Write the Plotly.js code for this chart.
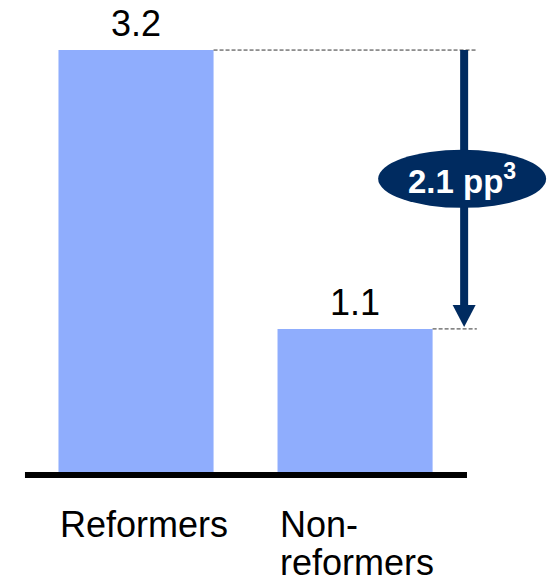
<!DOCTYPE html>
<html>
<head>
<meta charset="utf-8">
<script src="https://cdn.plot.ly/plotly-3.0.1.min.js"></script>
<style>html,body{margin:0;padding:0;background:#fff;}#chart{width:550px;height:582px;}</style>
</head>
<body>
<div id="chart"></div>
<script>
// Data
const categories = ["Reformers", "Non-<br>reformers"];
const values = [3.2, 1.1];
const valueLabels = ["3.2", "1.1"];
const diffLabel = "2.1 pp<sup>3</sup>";

// Styles
const barColor = "#8fadfd";
const navy = "#002b60";
const fontFamily = "Liberation Sans, Arial, Helvetica, sans-serif";
const barWidth = 0.708;
const arrowX = 1.498;
const dashEnd = 1.556;

const xIdx = categories.map((c, i) => i);

const annotations = [];
values.forEach((v, i) => {
  annotations.push({
    x: i, y: v, xref: "x", yref: "y", text: valueLabels[i],
    showarrow: false, xanchor: "center", yanchor: "bottom", yshift: 4,
    font: {family: fontFamily, size: 36, color: "#000"}
  });
});
categories.forEach((c, i) => {
  c.split("<br>").forEach((line, k) => {
    annotations.push({
      x: i - barWidth / 2, y: 0, xref: "x", yref: "y", text: line,
      showarrow: false, xanchor: "left", yanchor: "top", align: "left",
      borderpad: 0, xshift: 1,
      yshift: -28 - 38 * k,
      font: {family: fontFamily, size: 36, color: "#000"}
    });
  });
});
const hi = Math.max(...values), lo = Math.min(...values);
annotations.push({
  x: arrowX, y: 2.23, xref: "x", yref: "y", text: "<b>" + diffLabel + "</b>",
  showarrow: false, xanchor: "center", yanchor: "middle", xshift: -2,
  font: {family: fontFamily, size: 33, color: "#fff"}
});

const shapes = [
  // dashed guide lines
  {type: "line", xref: "x", yref: "y", x0: 0 + barWidth / 2, x1: dashEnd, y0: values[0], y1: values[0],
   line: {color: "#333", width: 1, dash: "4px,2px"}},
  {type: "line", xref: "x", yref: "y", x0: 1 + barWidth / 2, x1: dashEnd, y0: values[1], y1: values[1],
   line: {color: "#333", width: 1, dash: "4px,2px"}},
  // arrow shaft
  {type: "line", xref: "x", yref: "y", x0: arrowX, x1: arrowX, y0: hi, y1: lo + 0.12,
   line: {color: navy, width: 8}},
  // arrow head
  {type: "path", xref: "x", yref: "y", xsizemode: "pixel", ysizemode: "pixel",
   xanchor: arrowX, yanchor: lo, path: "M-11.5,24 L11.5,24 L0,2 Z",
   fillcolor: navy, line: {width: 0}},
  // ellipse
  {type: "circle", xref: "x", yref: "y", xsizemode: "pixel", ysizemode: "pixel",
   xanchor: arrowX, yanchor: 2.23, x0: -86, x1: 82, y0: -29, y1: 29,
   fillcolor: navy, line: {width: 0}},
  // baseline
  {type: "line", xref: "x", yref: "y", x0: -0.507, x1: 1.511, y0: 0, y1: 0,
   line: {color: "#000", width: 6}}
];

const trace = {
  type: "bar", x: xIdx, y: values, width: barWidth,
  marker: {color: barColor, line: {width: 0}},
  hoverinfo: "skip"
};

const layout = {
  width: 550, height: 582,
  margin: {l: 0, r: 0, t: 0, b: 0},
  paper_bgcolor: "#fff", plot_bgcolor: "#fff",
  showlegend: false,
  xaxis: {visible: false, range: [-0.621, 1.890], fixedrange: true},
  yaxis: {visible: false, range: [-0.806, 3.577], fixedrange: true},
  shapes: shapes,
  annotations: annotations
};

Plotly.newPlot("chart", [trace], layout, {displayModeBar: false, staticPlot: true});
</script>
</body>
</html>
